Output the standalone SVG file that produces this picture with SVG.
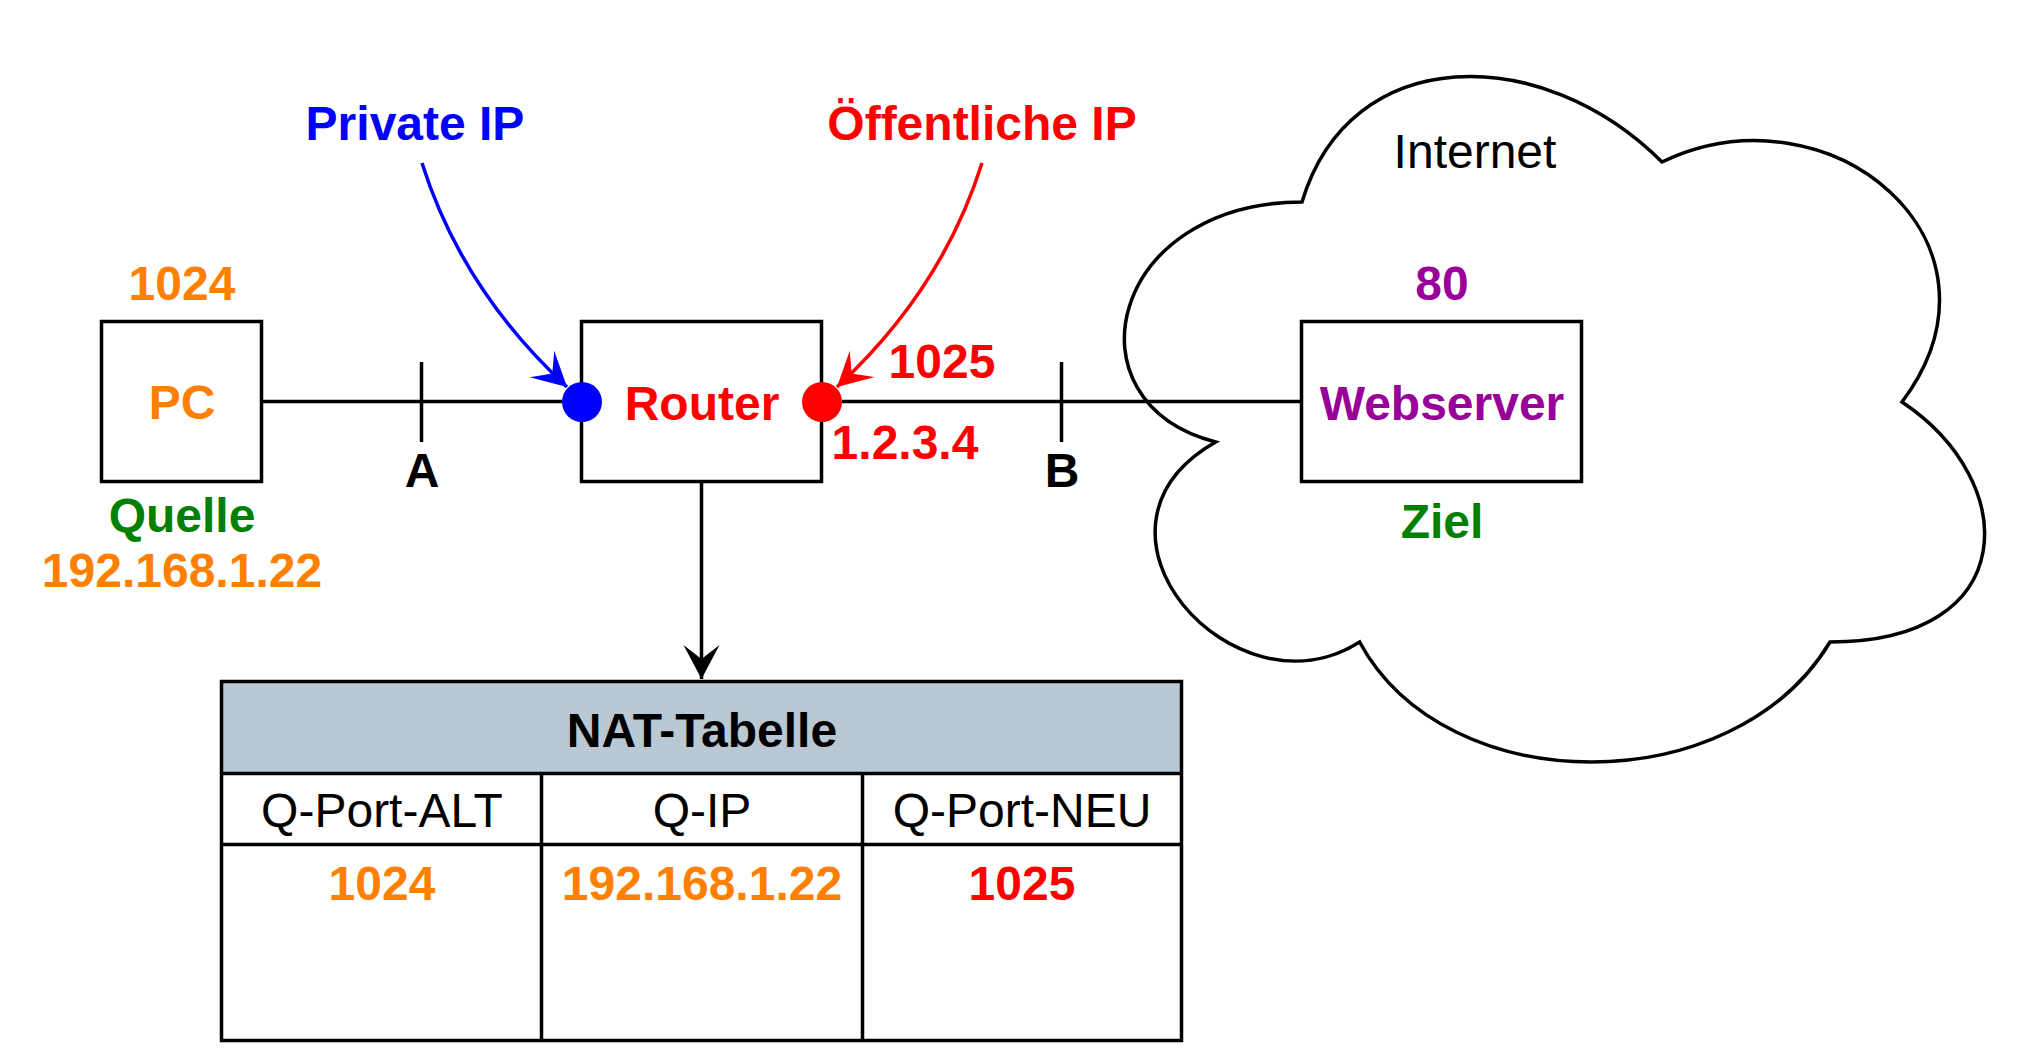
<svg xmlns="http://www.w3.org/2000/svg" width="2024" height="1048" viewBox="0 0 2024 1048">
  <style>
    text { font-family: "Liberation Sans", Arial, sans-serif; font-size: 48px; text-anchor: middle; }
    .b { font-weight: bold; }
    .box { fill: #ffffff; stroke: #000000; stroke-width: 3.5; }
    .ln { fill: none; stroke: #000000; stroke-width: 3.5; }
    .orange { fill: #FF8000; }
    .green { fill: #008000; }
    .purple { fill: #990099; }
    .red { fill: #FF0000; }
    .blue { fill: #0000FF; }
    .black { fill: #000000; }
  </style>
  <defs>
    <marker id="ahBlack" markerUnits="userSpaceOnUse" markerWidth="36" markerHeight="38" viewBox="0 0 36 38" refX="34" refY="18" orient="auto">
      <path d="M0,0 L34,18 L0,36 L14,18 Z" fill="#000000"/>
    </marker>
    <marker id="ahBlue" markerUnits="userSpaceOnUse" markerWidth="36" markerHeight="38" viewBox="0 0 36 38" refX="34" refY="18" orient="auto">
      <path d="M0,0 L34,18 L0,36 L14,18 Z" fill="#0000FF"/>
    </marker>
    <marker id="ahRed" markerUnits="userSpaceOnUse" markerWidth="36" markerHeight="38" viewBox="0 0 36 38" refX="34" refY="18" orient="auto">
      <path d="M0,0 L34,18 L0,36 L14,18 Z" fill="#FF0000"/>
    </marker>
  </defs>
  <rect x="0" y="0" width="2024" height="1048" fill="#ffffff"/>

  <g id="internet">
    <path class="box" d="M1302,202 C1110,202 1062,402 1215.6,442 C1062,530 1234.8,722 1359.6,642 C1446,802 1734,802 1830,642 C2022,642 2022,482 1902,402 C2022,242 1830,82 1662,162 C1542,42 1350,42 1302,202 Z"/>
    <text x="1475" y="168">Internet</text>
  </g>

  <g id="connectors">
    <line class="ln" x1="262" y1="401.5" x2="562" y2="401.5"/>
    <line class="ln" x1="842" y1="401.5" x2="1302" y2="401.5"/>
    <line class="ln" x1="421.5" y1="362" x2="421.5" y2="442"/>
    <line class="ln" x1="1061.5" y1="362" x2="1061.5" y2="442"/>
    <line class="ln" x1="701.5" y1="482" x2="701.5" y2="679" marker-end="url(#ahBlack)"/>
    <path d="M422,163 Q462,290 567,387" fill="none" stroke="#0000FF" stroke-width="3.5" marker-end="url(#ahBlue)"/>
    <path d="M982,163 Q942,290 837,387" fill="none" stroke="#FF0000" stroke-width="3.5" marker-end="url(#ahRed)"/>
  </g>

  <g id="labels">
    <text class="b blue" x="415" y="140">Private IP</text>
    <text class="b red" x="982" y="140">Öffentliche IP</text>
    <text class="b black" x="422" y="487">A</text>
    <text class="b black" x="1062" y="487">B</text>
    <text class="b red" x="942" y="378">1025</text>
    <text class="b red" x="905" y="459">1.2.3.4</text>
  </g>

  <g id="pc">
    <rect class="box" x="101.5" y="321.5" width="160" height="160"/>
    <text class="b orange" x="182" y="300">1024</text>
    <text class="b orange" x="182" y="419">PC</text>
    <text class="b green" x="182" y="532">Quelle</text>
    <text class="b orange" x="182" y="587">192.168.1.22</text>
  </g>

  <g id="router">
    <rect class="box" x="581.5" y="321.5" width="240" height="160"/>
    <text class="b red" x="702" y="420">Router</text>
    <circle cx="582" cy="402" r="20" fill="#0000FF"/>
    <circle cx="822" cy="402" r="20" fill="#FF0000"/>
  </g>

  <g id="webserver">
    <rect class="box" x="1301.5" y="321.5" width="280" height="160"/>
    <text class="b purple" x="1442" y="300">80</text>
    <text class="b purple" x="1442" y="420">Webserver</text>
    <text class="b green" x="1442" y="538">Ziel</text>
  </g>

  <g id="nat-table">
    <rect x="222" y="682" width="960" height="92" fill="#BAC8D3" stroke="none"/>
    <rect x="222" y="774" width="960" height="267" fill="#ffffff" stroke="none"/>
    <line class="ln" x1="222" y1="773.5" x2="1182" y2="773.5"/>
    <line class="ln" x1="222" y1="844.5" x2="1182" y2="844.5"/>
    <line class="ln" x1="541.5" y1="774" x2="541.5" y2="1041"/>
    <line class="ln" x1="862.5" y1="774" x2="862.5" y2="1041"/>
    <rect x="221.5" y="681.5" width="960" height="359" fill="none" stroke="#000000" stroke-width="3.5"/>
    <text class="b black" x="702" y="747">NAT-Tabelle</text>
    <text x="382" y="827">Q-Port-ALT</text>
    <text x="702" y="827">Q-IP</text>
    <text x="1022" y="827">Q-Port-NEU</text>
    <text class="b orange" x="382" y="900">1024</text>
    <text class="b orange" x="702" y="900">192.168.1.22</text>
    <text class="b red" x="1022" y="900">1025</text>
  </g>
</svg>
